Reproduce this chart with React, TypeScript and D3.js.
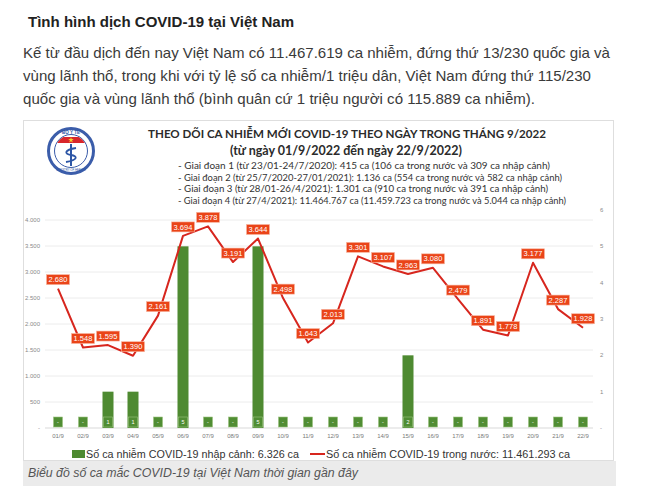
import React from "react";
import * as d3 from "d3";

const days = ["01/9","02/9","03/9","04/9","05/9","06/9","07/9","08/9","09/9","10/9","11/9","12/9","13/9","14/9","15/9","16/9","17/9","18/9","19/9","20/9","21/9","22/9"];
const imported = [0,0,1,1,0,5,0,0,5,0,0,0,0,0,2,0,0,0,0,0,0,0];
const domestic = [2680,1548,1595,1390,2161,3694,3878,3191,3644,2498,1643,2013,3301,3107,2963,3080,2479,1891,1778,3177,2287,1928];
const leftTicks = [0,500,1000,1500,2000,2500,3000,3500,4000];
const rightTicks = [0,1,2,3,4,5,6];

const headline = "Tình hình dịch COVID-19 tại Việt Nam";
const paragraph = [
  "Kế từ đầu dịch đến nay Việt Nam có 11.467.619 ca nhiễm, đứng thứ 13/230 quốc gia và",
  "vùng lãnh thổ, trong khi với tỷ lệ số ca nhiễm/1 triệu dân, Việt Nam đứng thứ 115/230",
  "quốc gia và vùng lãnh thổ (bình quân cứ 1 triệu người có 115.889 ca nhiễm).",
];
const chartTitle = "THEO DÕI CA NHIỄM MỚI COVID-19 THEO NGÀY TRONG THÁNG 9/2022";
const chartSubtitle = "(từ ngày 01/9/2022 đến ngày 22/9/2022)";
const phases = [
  "- Giai đoạn 1 (từ 23/01-24/7/2020): 415 ca (106 ca trong nước và 309 ca nhập cảnh)",
  "- Giai đoạn 2 (từ 25/7/2020-27/01/2021): 1.136 ca (554 ca trong nước và 582 ca nhập cảnh)",
  "- Giai đoạn 3 (từ 28/01-26/4/2021): 1.301 ca (910 ca trong nước và 391 ca nhập cảnh)",
  "- Giai đoạn 4 (từ 27/4/2021): 11.464.767 ca (11.459.723 ca trong nước và 5.044 ca nhập cảnh)",
];
const legendBar = "Số ca nhiễm COVID-19 nhập cảnh: 6.326 ca";
const legendLine = "Số ca nhiễm COVID-19 trong nước: 11.461.293 ca";
const caption = "Biểu đồ số ca mắc COVID-19 tại Việt Nam thời gian gần đây";

const fmt = (v: number) => (v === 0 ? "-" : d3.format(",")(v).replace(/,/g, "."));

export default function App() {
  const x = d3.scaleBand<string>().domain(days).range([45.5, 595.5]);
  const yL = d3.scaleLinear().domain([0, 4000]).range([428, 220]);
  const yR = d3.scaleLinear().domain([0, 6]).range([428, 210]);
  const cx = (d: string) => (x(d) as number) + x.bandwidth() / 2;

  const line = d3
    .line<number>()
    .x((_, i) => cx(days[i]))
    .y((v) => yL(v));

  const sans = "'Liberation Sans', Arial, sans-serif";
  const cal = "Lato, 'Open Sans', sans-serif";
  const green = "#4e8a31";
  const red = "#d7261e";
  const labelRed = "#ea4418";
  const barW = 11;

  return (
    <svg
      width={650}
      height={488}
      style={{ position: "absolute", left: 0, top: 0, background: "#fff" }}
    >
      <rect x={0} y={0} width={650} height={488} fill="#fff" />
      {/* article text */}
      <text x={28} y={27} fontFamily={sans} fontWeight="bold" fontSize={14.5} fill="#222" textLength={266} lengthAdjust="spacingAndGlyphs">
        {headline}
      </text>
      {paragraph.map((p, i) => (
        <text key={i} x={23} y={58 + i * 22.8} fontFamily={sans} fontSize={15} fill="#3a3a3a"
          textLength={[587, 568, 512][i]} lengthAdjust="spacingAndGlyphs">
          {p}
        </text>
      ))}

      {/* card */}
      <rect x={23.5} y={120.5} width={590} height={340} fill="#fff" stroke="#dedede" />
      <rect x={23} y={461} width={593} height={25} fill="#ebebeb" />

      {/* logo */}
      <g>
        <circle cx={71} cy={151} r={22.5} fill="#fff" stroke="#3b5daa" strokeWidth={3} />
        <circle cx={71} cy={151} r={16.5} fill="#fff" stroke="#3b5daa" strokeWidth={1} />
        <clipPath id="logoClip"><circle cx={71} cy={151} r={16} /></clipPath>
        <rect x={54} y={137} width={34} height={6} fill="#d8262b" clipPath="url(#logoClip)" />
        <path d={d3.symbol().type(d3.symbolStar).size(10)() as string} transform="translate(71,140)" fill="#f6d22a" />
        <line x1={71} y1={144} x2={71} y2={166} stroke="#2d56a6" strokeWidth={2} />
        <path d="M76,148 C64,150 64,154 71,155 C78,156 78,160 66,162" fill="none" stroke="#2d56a6" strokeWidth={1.8} />
        <text x={71} y={134} textAnchor="middle" fontFamily={sans} fontSize={4.5} fill="#2d56a6" fontWeight="bold">BỘ Y TẾ</text>
        <text x={71} y={171} textAnchor="middle" fontFamily={sans} fontSize={2.8} fill="#2d56a6">MINISTRY OF HEALTH</text>
      </g>

      {/* chart titles */}
      <text x={347} y={138} textAnchor="middle" fontFamily={cal} fontWeight="bold" fontSize={12} fill="#2b2b2b" textLength={398} lengthAdjust="spacingAndGlyphs">
        {chartTitle}
      </text>
      <text x={346} y={154.5} textAnchor="middle" fontFamily={cal} fontWeight="bold" fontSize={12.5} fill="#2b2b2b" textLength={232} lengthAdjust="spacingAndGlyphs">
        {chartSubtitle}
      </text>
      {phases.map((p, i) => (
        <text key={i} x={178} y={169 + i * 11.5} fontFamily={cal} fontSize={9} fill="#333"
          textLength={[372, 384, 370, 388][i]} lengthAdjust="spacingAndGlyphs">
          {p}
        </text>
      ))}

      {/* gridlines */}
      {leftTicks.map((t) => (
        <line key={t} x1={45} x2={593} y1={yL(t)} y2={yL(t)} stroke={t === 0 ? "#d9d9d9" : "#ececec"} strokeWidth={1} />
      ))}
      {leftTicks.map((t) => (
        <text key={"l" + t} x={40} y={yL(t)} dy="0.35em" textAnchor="end" fontFamily={sans} fontSize={6} fill="#8a8a8a">
          {fmt(t)}
        </text>
      ))}
      {rightTicks.map((t) => (
        <text key={"r" + t} x={600} y={yR(t)} dy="0.35em" fontFamily={sans} fontSize={6} fill="#8a8a8a">
          {fmt(t)}
        </text>
      ))}
      {days.map((d) => (
        <text key={"x" + d} x={cx(d)} y={438} textAnchor="middle" fontFamily={sans} fontSize={6} fill="#7a7a7a">
          {d}
        </text>
      ))}

      {/* bars */}
      {imported.map((v, i) => (
        <rect key={"b" + i} x={cx(days[i]) - barW / 2} y={yR(v)} width={barW} height={yR(0) - yR(v)} fill={green} />
      ))}
      {imported.map((v, i) => (
        <g key={"bl" + i}>
          <rect x={cx(days[i]) - 4.5} y={417} width={9} height={10} fill="#508d33" stroke="#9cc27f" strokeWidth={0.6} />
          <text x={cx(days[i])} y={422.5} dy="0.35em" textAnchor="middle" fontFamily={sans} fontSize={5.5} fill="#fff">
            {fmt(v)}
          </text>
        </g>
      ))}

      {/* line */}
      <path d={line(domestic) as string} fill="none" stroke={red} strokeWidth={2} strokeLinejoin="round" />
      {domestic.map((v, i) => (
        <g key={"ll" + i}>
          <rect x={cx(days[i]) - 11.5} y={yL(v) - 14} width={23} height={10} fill={labelRed} stroke="#f7b7a3" strokeWidth={0.6} />
          <text x={cx(days[i])} y={yL(v) - 9} dy="0.35em" textAnchor="middle" fontFamily={sans} fontSize={7.5} fill="#fff">
            {fmt(v)}
          </text>
        </g>
      ))}

      {/* legend */}
      <rect x={72} y={450} width={13} height={8} fill={green} />
      <text x={86} y={458} fontFamily={sans} fontSize={11.5} fill="#333" textLength={213} lengthAdjust="spacingAndGlyphs">
        {legendBar}
      </text>
      <line x1={310} x2={325} y1={454} y2={454} stroke={red} strokeWidth={2} />
      <text x={326} y={458} fontFamily={sans} fontSize={11.5} fill="#333" textLength={244} lengthAdjust="spacingAndGlyphs">
        {legendLine}
      </text>

      {/* caption */}
      <text x={28} y={477} fontFamily={sans} fontStyle="italic" fontSize={12.5} fill="#555" textLength={330} lengthAdjust="spacingAndGlyphs">
        {caption}
      </text>
    </svg>
  );
}
